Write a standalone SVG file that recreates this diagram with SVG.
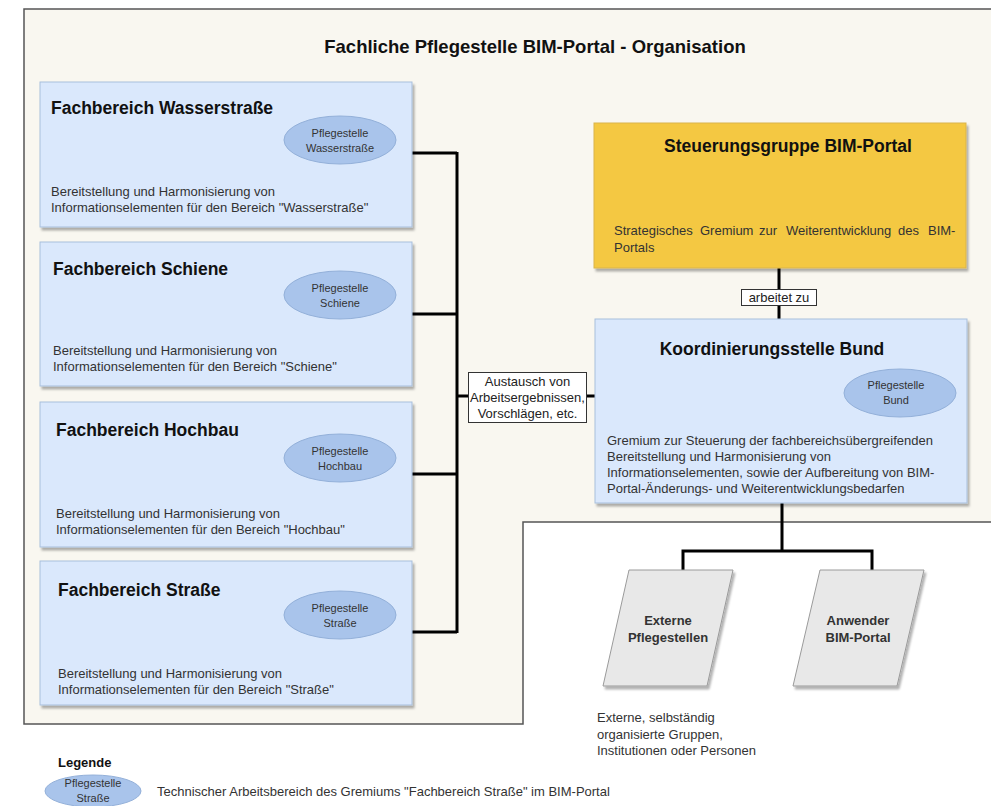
<svg xmlns="http://www.w3.org/2000/svg" width="991" height="806" viewBox="0 0 991 806">
<style>
text{font-family:"Liberation Sans",Arial,sans-serif;}
.fb{fill:#dae8fc;stroke:#a8bfdc;stroke-width:1;filter:url(#sh);}
.ell{fill:#a9c4eb;stroke:#93b0d9;stroke-width:1;}
.h1{font-size:17.5px;font-weight:bold;fill:#111;}
.h2{font-size:17.5px;font-weight:bold;fill:#111;text-anchor:middle;}
.d{font-size:13px;fill:#333;}
.et{font-size:11px;fill:#333;text-anchor:middle;}
.lbl{fill:#fff;stroke:#333;stroke-width:1;}
.lt{font-size:13px;fill:#222;text-anchor:middle;}
.pt{font-size:13px;font-weight:bold;fill:#333;text-anchor:middle;}
.con{stroke:#000;stroke-width:3;fill:none;}
</style>
<defs>
<filter id="sh" x="-5%" y="-5%" width="115%" height="120%">
<feDropShadow dx="2" dy="3" stdDeviation="1" flood-color="#000" flood-opacity="0.3"/>
</filter>
</defs>
<rect width="991" height="806" fill="#fff"/>
<g id="container">
<path d="M24,9 H991 V522 H523 V724 H24 Z" fill="#f9f7f0"/>
<path d="M991,9 H24 V724 H523 V522 H991" fill="none" stroke="#555" stroke-width="1.5"/>
<text x="535" y="53" text-anchor="middle" font-size="18.5px" font-weight="bold" fill="#111">Fachliche Pflegestelle BIM-Portal - Organisation</text>
</g>
<g id="connectors">
<path class="con" d="M412,153 H457 M412,314 H457 M412,474 H457 M412,632 H457 M457,152 V633 M457,396 H595"/>
<path class="con" d="M779,268 V319"/>
<path class="con" d="M782,503 V551 M683,551 H872 M683,549.5 V570 M872,549.5 V570"/>
<g id="label-austausch">
<rect class="lbl" x="468.5" y="372.5" width="118" height="50"/>
<text class="lt" x="527.5" y="386">Austausch von</text>
<text class="lt" x="527.5" y="402">Arbeitsergebnissen,</text>
<text class="lt" x="527.5" y="418">Vorschlägen, etc.</text>
</g>
<g id="label-arbeitet">
<rect class="lbl" x="741.5" y="289.5" width="75" height="16"/>
<text class="lt" x="779" y="302">arbeitet zu</text>
</g>
</g>
<g id="fb-wasserstrasse">
<rect class="fb" x="40" y="82" width="372" height="145"/>
<text class="h1" x="51" y="114">Fachbereich Wasserstraße</text>
<ellipse class="ell" cx="340" cy="140" rx="56" ry="24"/>
<text class="et" x="340" y="137">Pflegestelle</text>
<text class="et" x="340" y="152">Wasserstraße</text>
<text class="d" x="51" y="196">Bereitstellung und Harmonisierung von</text>
<text class="d" x="51" y="212">Informationselementen für den Bereich "Wasserstraße"</text>
</g>
<g id="fb-schiene">
<rect class="fb" x="40" y="242" width="372" height="144"/>
<text class="h1" x="53" y="275">Fachbereich Schiene</text>
<ellipse class="ell" cx="340" cy="295" rx="56" ry="24"/>
<text class="et" x="340" y="292">Pflegestelle</text>
<text class="et" x="340" y="307">Schiene</text>
<text class="d" x="53" y="355">Bereitstellung und Harmonisierung von</text>
<text class="d" x="53" y="371">Informationselementen für den Bereich "Schiene"</text>
</g>
<g id="fb-hochbau">
<rect class="fb" x="40" y="402" width="372" height="145"/>
<text class="h1" x="56" y="436">Fachbereich Hochbau</text>
<ellipse class="ell" cx="340" cy="458" rx="56" ry="24"/>
<text class="et" x="340" y="455">Pflegestelle</text>
<text class="et" x="340" y="470">Hochbau</text>
<text class="d" x="56" y="518">Bereitstellung und Harmonisierung von</text>
<text class="d" x="56" y="534">Informationselementen für den Bereich "Hochbau"</text>
</g>
<g id="fb-strasse">
<rect class="fb" x="40" y="561" width="372" height="144"/>
<text class="h1" x="58" y="596">Fachbereich Straße</text>
<ellipse class="ell" cx="340" cy="615" rx="56" ry="24"/>
<text class="et" x="340" y="612">Pflegestelle</text>
<text class="et" x="340" y="627">Straße</text>
<text class="d" x="58" y="678">Bereitstellung und Harmonisierung von</text>
<text class="d" x="58" y="694">Informationselementen für den Bereich "Straße"</text>
</g>
<g id="steuerungsgruppe">
<rect x="594" y="123" width="372" height="145" fill="#f4c843" stroke="#d9b44a" stroke-width="1" filter="url(#sh)"/>
<text class="h2" x="788" y="152">Steuerungsgruppe BIM-Portal</text>
<text class="d" y="235"><tspan x="614">Strategisches</tspan><tspan x="700">Gremium</tspan><tspan x="759">zur</tspan><tspan x="786">Weiterentwicklung</tspan><tspan x="898">des</tspan><tspan x="928">BIM-</tspan></text>
<text class="d" x="614" y="252">Portals</text>
</g>
<g id="koordinierungsstelle">
<rect class="fb" x="595" y="319" width="372" height="184"/>
<text class="h2" x="772" y="355">Koordinierungsstelle Bund</text>
<ellipse class="ell" cx="900" cy="393" rx="56" ry="24"/>
<text class="et" x="896" y="389">Pflegestelle</text>
<text class="et" x="896" y="404">Bund</text>
<text class="d" x="607" y="445">Gremium zur Steuerung der fachbereichsübergreifenden</text>
<text class="d" x="607" y="461">Bereitstellung und Harmonisierung von</text>
<text class="d" x="607" y="477">Informationselementen, sowie der Aufbereitung von BIM-</text>
<text class="d" x="607" y="493">Portal-Änderungs- und Weiterentwicklungsbedarfen</text>
</g>
<g id="externe-pflegestellen">
<polygon points="629,570 733,570 707,686 603,686" fill="#e8e8e8" stroke="#9a9a9a" stroke-width="1" filter="url(#sh)"/>
<text class="pt" x="668" y="625">Externe</text>
<text class="pt" x="668" y="642">Pflegestellen</text>
</g>
<g id="anwender-bim-portal">
<polygon points="820,570 924,570 897,686 793,686" fill="#e8e8e8" stroke="#9a9a9a" stroke-width="1" filter="url(#sh)"/>
<text class="pt" x="858" y="625">Anwender</text>
<text class="pt" x="858" y="642">BIM-Portal</text>
</g>
<g id="externe-note">
<text class="d" x="597" y="722">Externe, selbständig</text>
<text class="d" x="597" y="739">organisierte Gruppen,</text>
<text class="d" x="597" y="755">Institutionen oder Personen</text>
</g>
<g id="legende">
<text x="58" y="767" font-size="13px" font-weight="bold" fill="#111">Legende</text>
<ellipse class="ell" cx="93" cy="791" rx="48" ry="16"/>
<text class="et" x="93" y="787">Pflegestelle</text>
<text class="et" x="93" y="802">Straße</text>
<text class="d" x="157" y="796">Technischer Arbeitsbereich des Gremiums "Fachbereich Straße" im BIM-Portal</text>
</g>
</svg>
